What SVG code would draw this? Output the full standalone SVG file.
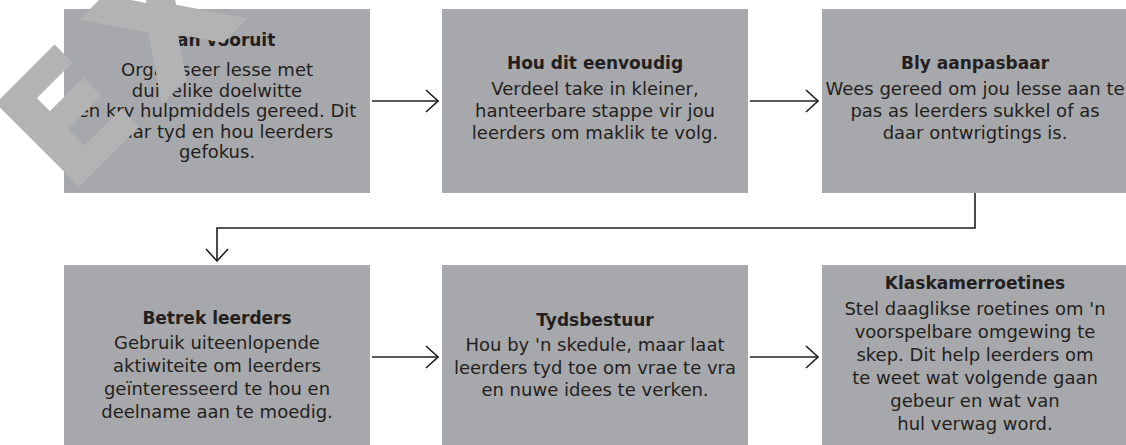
<svg xmlns="http://www.w3.org/2000/svg" width="1126" height="445" viewBox="0 0 1126 445">
<style>
.box{fill:#a7a8ab}
.t{font-family:"DejaVu Sans","Liberation Sans",sans-serif;font-weight:bold;font-size:17px;fill:#231f20;text-anchor:middle}
.b{font-family:"DejaVu Sans","Liberation Sans",sans-serif;font-size:18px;fill:#231f20;text-anchor:middle}
.c{fill:none;stroke:#231f20;stroke-width:1.6}
.wm{font-family:"DejaVu Sans","Liberation Sans",sans-serif;font-weight:bold;font-size:158px;letter-spacing:22px;fill:#b3b3b3;stroke:#b3b3b3;stroke-width:3}
</style>
<defs>
<marker id="ah" markerWidth="14" markerHeight="24" refX="13" refY="12" orient="auto" markerUnits="userSpaceOnUse">
<path d="M1,1 L13,12 L1,23" fill="none" stroke="#231f20" stroke-width="1.6"/>
</marker>
</defs>
<g id="n1"><rect class="box" x="64" y="9" width="306" height="184"/>
<text class="t" x="217" y="46">Plan vooruit</text>
<text class="b" x="217" y="76">Organiseer lesse met</text>
<text class="b" x="217" y="96.5">duidelike doelwitte</text>
<text class="b" x="217" y="117">en kry hulpmiddels gereed. Dit</text>
<text class="b" x="217" y="137.5">spaar tyd en hou leerders</text>
<text class="b" x="217" y="158">gefokus.</text></g>
<g id="n2"><rect class="box" x="442" y="9" width="306" height="184"/>
<text class="t" x="595" y="69">Hou dit eenvoudig</text>
<text class="b" x="595" y="95">Verdeel take in kleiner,</text>
<text class="b" x="595" y="117">hanteerbare stappe vir jou</text>
<text class="b" x="595" y="139">leerders om maklik te volg.</text></g>
<g id="n3"><rect class="box" x="822" y="9" width="306" height="184"/>
<text class="t" x="975" y="69">Bly aanpasbaar</text>
<text class="b" x="975" y="95">Wees gereed om jou lesse aan te</text>
<text class="b" x="975" y="117">pas as leerders sukkel of as</text>
<text class="b" x="975" y="139">daar ontwrigtings is.</text></g>
<g id="n4"><rect class="box" x="64" y="265" width="306" height="184"/>
<text class="t" x="217" y="324">Betrek leerders</text>
<text class="b" x="217" y="349">Gebruik uiteenlopende</text>
<text class="b" x="217" y="372">aktiwiteite om leerders</text>
<text class="b" x="217" y="395">geïnteresseerd te hou en</text>
<text class="b" x="217" y="418">deelname aan te moedig.</text></g>
<g id="n5"><rect class="box" x="442" y="265" width="306" height="184"/>
<text class="t" x="595" y="326">Tydsbestuur</text>
<text class="b" x="595" y="351">Hou by 'n skedule, maar laat</text>
<text class="b" x="595" y="373.5">leerders tyd toe om vrae te vra</text>
<text class="b" x="595" y="396">en nuwe idees te verken.</text></g>
<g id="n6"><rect class="box" x="822" y="265" width="306" height="184"/>
<text class="t" x="975" y="289">Klaskamerroetines</text>
<text class="b" x="975" y="315">Stel daaglikse roetines om 'n</text>
<text class="b" x="975" y="338">voorspelbare omgewing te</text>
<text class="b" x="975" y="361">skep. Dit help leerders om</text>
<text class="b" x="975" y="384">te weet wat volgende gaan</text>
<text class="b" x="975" y="407">gebeur en wat van</text>
<text class="b" x="975" y="430">hul verwag word.</text></g>
<g id="connectors">
<path class="c" d="M372,101 H438" marker-end="url(#ah)"/>
<path class="c" d="M750,101 H818" marker-end="url(#ah)"/>
<path class="c" d="M975,193 V228 H217 V261" marker-end="url(#ah)"/>
<path class="c" d="M372,357 H438" marker-end="url(#ah)"/>
<path class="c" d="M750,357 H818" marker-end="url(#ah)"/>
</g>
<g id="watermark"><text class="wm" x="0" y="0" transform="translate(69,195) rotate(-45)">EX</text></g>
</svg>
